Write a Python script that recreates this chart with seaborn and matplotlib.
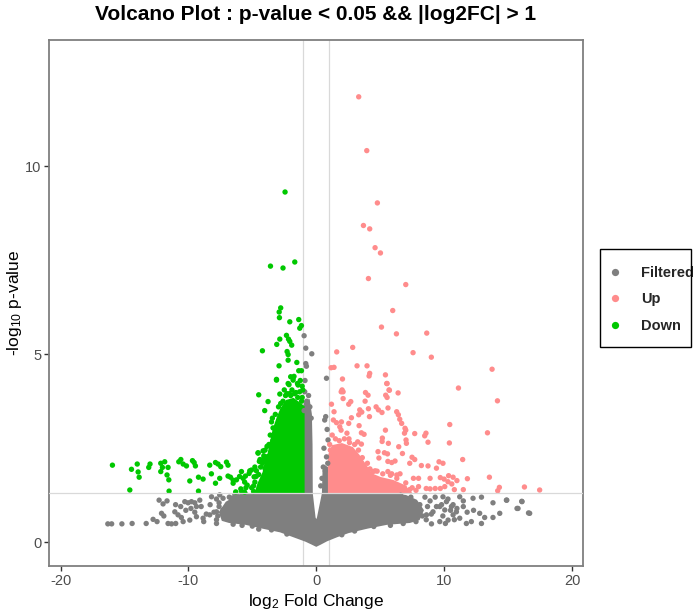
import matplotlib
matplotlib.use("Agg")
import matplotlib.pyplot as plt
import matplotlib.patches as mpatches
import seaborn as sns
import pandas as pd

# ---------------- data ----------------
group_names = ["Filtered", "Up", "Down"]
group_colors = ["#7F7F7F", "#FF8C8C", "#00C800"]

down_x = [-2.44, -3.58, -2.6, -1.68, -2.78, -2.9, -2.88, -2.07, -1.37, -1.29, -1.16,
          -2.33, -2.17, -2.07, -1.92, -2.85, -3.09, -4.21, -2.28, -2.2, -2.2, -1.52,
          -2.91, -1.37, -1.16, -2.0, -1.81, -1.74, -3.11, -1.47, -2.13,
          -4.5, -3.77, -4.03, -3.38, -3.19, -4.55, -4.08, -3.77, -4.4, -4.27, -4.0,
          -3.43, -2.85, -2.78, -2.64, -3.11, -2.2, -1.81, -1.42,
          -3.6, -3.45, -3.7, -4.2, -4.0, -4.5, -4.8, -3.24,
          -2.5, -2.3, -1.9, -1.6, -1.3, -1.1, -2.0, -1.25, -1.1,
          -15.94, -14.58, -14.45, -14.0, -13.93, -13.85, -13.1, -13.0, -12.16, -11.85,
          -12.03, -12.16, -11.59, -11.67, -11.53, -11.51, -10.75, -10.59, -10.41, -10.15,
          -9.68, -9.55, -9.45, -9.89, -9.21, -8.85, -9.21, -8.33, -7.88, -7.68, -7.47,
          -7.02, -6.9, -8.2, -7.88, -7.55, -6.9, -6.71, -6.5, -6.24, -5.85, -5.72, -5.54,
          -6.3, -5.85, -5.5, -5.4, -5.25, -5.07, -4.86, -4.68, -4.55, -4.16, -3.82,
          -6.5, -6.0, -5.6, -5.2, -4.8, -4.45, -4.0, -3.7, -3.4, -5.9, -5.6, -5.05, -4.9,
          -4.9, -4.7, -4.35, -4.1, -3.85, -3.6, -3.5, -3.2, -2.95, -2.6, -2.4, -2.1,
          -1.7, -1.45, -1.15, -1.05, -3.3, -3.95]
down_y = [9.31, 7.34, 7.29, 7.45, 6.23, 6.12, 5.97, 5.86, 5.92, 5.69, 5.76,
          5.5, 5.4, 5.34, 5.24, 5.4, 5.26, 5.09, 5.07, 4.99, 4.84, 4.78,
          4.69, 4.56, 4.56, 4.4, 4.37, 4.41, 4.33, 4.22, 4.19,
          3.92, 3.74, 3.5, 3.04, 2.81, 2.37, 2.25, 2.28, 2.2, 2.15, 2.15,
          3.3, 3.94, 3.69, 3.43, 4.31, 4.22, 4.31, 4.18,
          2.6, 2.37, 2.2, 2.1, 1.95, 1.8, 1.6, 2.63,
          4.05, 3.95, 4.05, 3.98, 4.0, 3.85, 3.9, 4.3, 4.15,
          2.05, 1.39, 1.94, 2.08, 1.87, 1.73, 1.99, 2.08, 2.1, 2.14,
          1.99, 1.88, 1.99, 1.79, 1.66, 1.36, 2.14, 2.2, 2.08, 2.03,
          2.17, 2.12, 2.03, 1.63, 1.73, 1.68, 1.36, 2.05, 2.12, 2.08, 2.01,
          2.13, 2.05, 1.82, 1.57, 1.7, 1.76, 1.73, 1.57, 1.66, 1.88, 1.7, 1.76,
          1.34, 1.36, 1.45, 1.52, 1.83, 1.92, 1.74, 1.9, 2.38, 2.43, 2.27,
          1.65, 1.75, 1.6, 1.9, 2.0, 2.15, 2.45, 2.6, 2.7, 1.42, 1.33, 1.45, 1.35,
          1.5, 1.75, 2.0, 2.3, 2.55, 2.85, 3.2, 3.4, 3.6, 3.75, 3.9, 3.95,
          3.95, 3.85, 3.75, 4.05, 2.4, 2.0]

up_x = [3.32, 3.95, 4.78, 3.69, 4.18, 4.6, 5.02, 4.08, 7.0, 5.98, 5.1, 6.27, 8.64,
        1.6, 2.85, 7.57, 9.0, 1.16, 1.39, 3.19, 3.97, 4.18, 4.13, 5.41, 2.05, 5.51,
        13.75, 11.12, 1.95, 2.1, 5.69,
        5.54, 2.02, 3.85, 4.05, 5.43, 5.54, 5.72, 6.4, 2.1, 2.7, 2.54, 3.82, 14.17,
        1.19, 4.68, 4.86, 5.61, 3.4, 3.56, 3.32, 1.39, 5.14, 4.08, 4.16, 6.29, 6.42,
        2.75, 1.34, 1.58, 1.97, 2.54, 3.35, 6.53, 6.68, 10.44, 1.84, 1.94,
        6.94, 7.0, 6.9, 5.41, 3.53, 3.74, 7.7, 8.58, 8.48, 13.39, 2.56, 5.17, 5.15,
        7.02, 7.05, 5.64, 8.74, 10.41, 3.24, 3.53, 6.45, 4.83, 5.33, 5.57, 6.74,
        11.45, 7.49, 7.7, 9.6, 9.91, 4.9, 5.6, 5.9, 6.16, 8.22, 8.74, 9.4, 7.31,
        4.76, 4.44, 5.6, 5.9, 6.3, 6.55, 13.54, 11.82, 7.6, 8.0, 8.9,
        9.7, 10.35, 10.7, 11.0, 10.0, 10.3, 10.6, 14.32, 14.19, 16.28, 17.47,
        8.6, 8.9, 9.3, 9.7, 10.05, 10.8, 11.5, 7.3, 6.9, 8.0,
        1.1, 1.05, 1.5, 1.8, 2.2, 2.6, 3.0, 3.3, 3.6, 4.0, 4.2, 4.6, 5.2, 5.8,
        6.3, 7.0, 7.5, 7.8, 1.25, 2.4]
up_y = [11.84, 10.41, 9.02, 8.42, 8.33, 7.83, 7.69, 7.01, 6.85, 6.16, 5.72, 5.54, 5.56,
        5.06, 5.18, 5.04, 4.92, 4.64, 4.65, 4.69, 4.69, 4.49, 4.42, 4.45, 4.34, 4.22,
        4.6, 4.1, 4.0, 4.0, 4.05,
        4.22, 4.05, 3.98, 3.91, 3.91, 3.85, 4.04, 3.97, 3.82, 3.74, 3.67, 3.75, 3.76,
        3.67, 3.6, 3.52, 3.57, 3.52, 3.46, 3.39, 3.47, 3.45, 3.55, 3.34, 3.47, 3.39,
        3.31, 3.25, 3.18, 3.2, 3.16, 3.1, 3.27, 3.16, 3.13, 3.07, 2.98,
        3.03, 2.98, 2.9, 2.98, 2.91, 2.87, 2.89, 2.9, 2.83, 2.91, 2.75, 2.77, 2.68,
        2.72, 2.63, 2.63, 2.66, 2.64, 2.67, 2.61, 2.54, 2.41, 2.38, 2.35, 2.36,
        2.2, 2.26, 2.2, 2.14, 2.1, 2.24, 2.15, 2.12, 2.16, 2.04, 2.03, 1.97, 2.1,
        1.89, 1.88, 1.88, 1.82, 1.79, 1.82, 1.73, 1.69, 1.7, 1.7, 1.7,
        1.72, 1.77, 1.73, 1.64, 1.68, 1.61, 1.55, 1.46, 1.37, 1.47, 1.39,
        1.43, 1.42, 1.43, 1.43, 1.48, 1.4, 1.4, 1.4, 1.45, 1.48,
        2.45, 2.6, 2.75, 2.7, 2.75, 2.65, 2.6, 2.45, 2.25, 2.1, 1.95, 1.9, 1.82, 1.78,
        1.7, 1.58, 1.45, 1.38, 2.85, 2.9]

filtered_x = [-0.95, -0.82, -0.35, -0.82, -0.77, -0.88, -0.9, -0.6, -0.75, -0.5, -0.95, -0.4,
              0.8, 0.74, 0.66, 0.92, 0.8, 0.55, 0.45, 0.35, 0.7, 0.9, 0.6, 0.85,
              -16.3, -16.0, -15.2, -14.4, -13.3, -12.76, -12.45, -12.29, -11.67, -11.98,
              -12.1, -11.92, -11.59, -11.32, -10.99, -11.06, -10.81, -10.55, -10.28,
              -10.02, -9.76, -9.5, -9.37, -9.11, -10.41, -9.89, -9.37, -8.85, -8.33,
              -7.8, -7.29, -6.76, -6.24, -5.72, -5.2, -8.19, -7.55, -7.29, -6.63,
              -6.37, -5.85, -5.46, -7.8, -8.0, -8.3, -7.8, -8.6, -9.0, -9.5, -8.8,
              -9.8, -10.2, -10.6, -11.0, -7.6,
              11.22, 12.26, 12.92, 13.82, 14.87, 16.09, 15.78, 16.69, 14.35, 13.82,
              13.17, 12.78, 12.13, 12.92, 11.74, 11.22, 10.7, 9.91, 10.18, 9.66, 9.13,
              8.62, 10.05, 10.57, 10.96, 10.31, 9.66, 9.01, 14.9, 16.07, 15.7, 16.6,
              8.5, 8.9, 9.3, 8.7, 9.0, 8.6, 9.4, 9.8, 10.3, 10.7, 11.0, 10.5, 9.9,
              10.1, 10.8, 11.5, 11.8, 12.3, 11.5,
              -7.8, -6.5, -5.8, -5.0, -4.5, -3.5, -2.3, 2.0, 3.0, 4.5, 5.8, 6.8, 7.8,
              8.3, 8.1, -7.7, -7.6, -6.8, -6.2, 7.4, 6.6, 0.15, -0.1]
filtered_y = [5.49, 5.16, 5.01, 4.75, 4.68, 4.3, 4.0, 3.9, 3.75, 3.6, 3.5, 3.3,
              4.36, 3.34, 3.25, 2.72, 2.27, 2.0, 1.7, 1.5, 1.9, 2.1, 2.5, 3.0,
              0.49, 0.49, 0.49, 0.5, 0.5, 0.61, 0.55, 1.12, 1.1, 1.02,
              0.77, 0.7, 0.5, 0.49, 0.5, 0.81, 0.73, 0.66, 1.08,
              1.05, 1.08, 1.05, 0.95, 1.12, 0.55, 0.59, 0.68, 0.64, 0.73,
              0.81, 0.86, 0.95, 1.04, 1.12, 1.21, 1.21, 1.26, 1.17, 1.17,
              1.26, 1.23, 1.26, 0.6, 0.8, 1.0, 1.15, 0.75, 0.95, 0.8, 0.55,
              0.9, 0.85, 0.95, 1.0, 0.95,
              1.21, 1.17, 1.2, 1.05, 1.12, 1.08, 0.9, 0.77, 0.77, 0.66,
              0.66, 0.77, 0.55, 0.5, 0.5, 0.64, 0.73, 1.21, 1.08, 0.95, 0.81,
              0.73, 0.86, 0.95, 0.81, 0.59, 0.55, 0.49, 1.12, 1.09, 0.9, 0.78,
              1.2, 1.1, 1.2, 0.95, 0.75, 0.6, 0.95, 1.0, 1.15, 1.0, 0.9, 0.85, 0.7,
              0.5, 0.6, 0.95, 0.8, 0.85, 1.1,
              0.5, 0.48, 0.45, 0.43, 0.35, 0.33, 0.22, 0.2, 0.3, 0.42, 0.45, 0.5, 0.55,
              0.7, 1.0, 0.7, 1.05, 1.2, 1.25, 1.2, 1.25, 0.35, 0.3]

# outlines of the areas where the points overlap into a solid mass
filtered_core_x = [-6.0, -5.0, -1.02, -1.02, -0.85, -0.6, -0.45, -0.4, -0.38, -0.16, 0.0,
                   0.16, 0.55, 0.6, 0.7, 0.98, 0.98, 6.0, 7.0, 7.8, 8.3, 8.0, 7.3, 5.5,
                   4.0, 2.5, 1.6, 0.8, 0.3, 0.0, -0.3, -0.8, -1.6, -2.8, -4.2, -5.5,
                   -6.8, -7.3, -7.5, -7.0, -6.5]
filtered_core_y = [1.22, 1.27, 1.27, 3.3, 3.7, 3.75, 3.4, 2.6, 1.3, 0.65, 0.52,
                   0.65, 1.3, 1.9, 2.0, 1.95, 1.27, 1.27, 1.22, 1.1, 0.85, 0.62, 0.55, 0.5,
                   0.4, 0.28, 0.17, 0.06, -0.03, -0.08, -0.03, 0.05, 0.15, 0.3, 0.4, 0.5,
                   0.55, 0.6, 0.8, 1.05, 1.15]
down_core_x = [-1.02, -4.7, -4.5, -4.1, -3.8, -3.55, -3.3, -3.0, -2.7, -2.3, -1.8, -1.4, -1.02]
down_core_y = [1.33, 1.33, 1.55, 1.85, 2.2, 2.6, 3.0, 3.3, 3.55, 3.75, 3.8, 3.7, 3.6]
up_core_x = [1.02, 1.02, 1.3, 2.0, 2.8, 3.3, 3.8, 4.3, 5.0, 6.0, 6.8, 7.3]
up_core_y = [1.33, 2.3, 2.55, 2.6, 2.5, 2.3, 2.05, 1.8, 1.7, 1.62, 1.5, 1.33]

title_text = "Volcano Plot : p-value < 0.05 && |log2FC| > 1"
x_ticks = [-20, -10, 0, 10, 20]
y_ticks = [0, 5, 10]
fc_cut = 1
p_cut = 1.30103

# ---------------- drawing ----------------
sns.set_theme(style="white")
plt.rcParams["font.family"] = ["Liberation Sans", "DejaVu Sans"]
plt.rcParams["mathtext.fontset"] = "custom"
plt.rcParams["mathtext.rm"] = "Liberation Sans"
plt.rcParams["mathtext.it"] = "Liberation Sans"
plt.rcParams["mathtext.bf"] = "Liberation Sans:bold"

df = pd.concat([
    pd.DataFrame({"x": filtered_x, "y": filtered_y, "group": "Filtered"}),
    pd.DataFrame({"x": up_x, "y": up_y, "group": "Up"}),
    pd.DataFrame({"x": down_x, "y": down_y, "group": "Down"}),
], ignore_index=True)

fig = plt.figure(figsize=(6.99, 6.10), dpi=100)
ax = fig.add_axes([49 / 699, 1 - 566 / 610, (583 - 49) / 699, (566 - 40) / 610])

col = dict(zip(group_names, group_colors))
ax.fill(filtered_core_x, filtered_core_y, color=col["Filtered"], lw=2.0, ec=col["Filtered"], zorder=2)
ax.fill(down_core_x, down_core_y, color=col["Down"], lw=2.0, ec=col["Down"], zorder=2)
ax.fill(up_core_x, up_core_y, color=col["Up"], lw=2.0, ec=col["Up"], zorder=2)

sns.scatterplot(data=df, x="x", y="y", hue="group", hue_order=group_names,
                palette=group_colors, s=15, linewidth=0, ax=ax, zorder=3)

ax.axvline(-fc_cut, color="#D9D9D9", lw=0.9, zorder=1)
ax.axvline(fc_cut, color="#D9D9D9", lw=0.9, zorder=1)
ax.axhline(p_cut, color="#D9D9D9", lw=0.9, zorder=4)

ax.set_xlim(-20.9, 20.86)
ax.set_ylim(-0.63, 13.35)
ax.set_xticks(x_ticks)
ax.set_yticks(y_ticks)
ax.set_xticklabels([str(v) for v in x_ticks])
ax.set_yticklabels([str(v) for v in y_ticks])
ax.tick_params(axis="both", colors="#333333", labelcolor="#4D4D4D", labelsize=10.5,
               length=3.5, width=1.0, direction="out", left=True, bottom=True, pad=2)
for sp in ax.spines.values():
    sp.set_color("#7F7F7F")
    sp.set_linewidth(1.3)
    sp.set_visible(True)
ax.grid(False)

ax.set_xlabel(r"log$_{2}$ Fold Change", fontsize=12.5, color="black", labelpad=3)
ax.set_ylabel(r"-log$_{10}$ p-value", fontsize=12.5, color="black", labelpad=1)
fig.text(316 / 699, 1 - 15 / 610, title_text, ha="center", va="center",
         fontsize=15, fontweight="bold", color="black")

handles, labels = ax.get_legend_handles_labels()
leg = ax.legend(handles, labels, loc="upper left", bbox_to_anchor=(600 / 699, 1 - 266 / 610),
                bbox_transform=fig.transFigure, frameon=False, borderaxespad=0,
                borderpad=0.0, labelspacing=0.85, handlelength=2.1, handletextpad=0.7,
                markerscale=1.35, prop={"weight": "bold", "size": 10.5})
leg.set_zorder(6)
box = mpatches.Rectangle((600 / 699, 1 - 347 / 610), 91 / 699, 98 / 610,
                         transform=fig.transFigure, fill=False, edgecolor="black",
                         linewidth=1.0, zorder=5)
fig.patches.append(box)

fig.savefig("out.png", dpi=100)
